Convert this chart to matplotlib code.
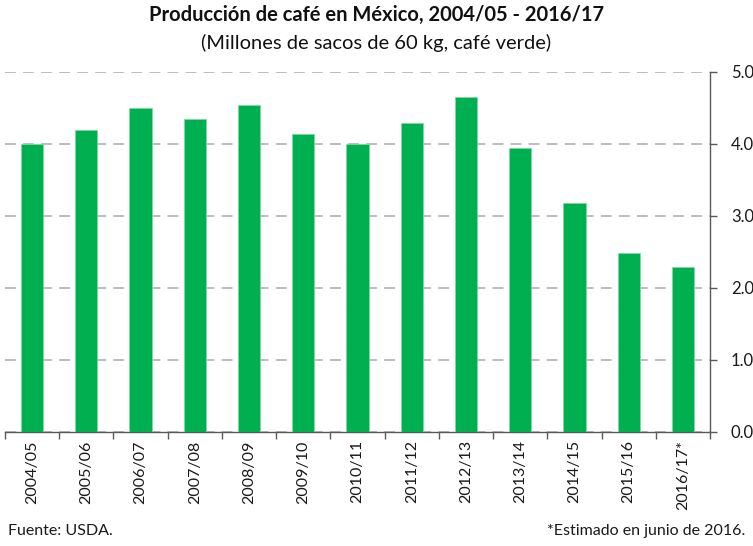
import numpy as np
import matplotlib
matplotlib.use("Agg")
import matplotlib.pyplot as plt

# data (millones de sacos de 60 kg)
ciclos = ['2004/05', '2005/06', '2006/07', '2007/08', '2008/09', '2009/10',
          '2010/11', '2011/12', '2012/13', '2013/14', '2014/15', '2015/16',
          '2016/17*']
produccion = [4.00, 4.19, 4.50, 4.35, 4.54, 4.14, 4.00, 4.29, 4.65, 3.95,
              3.18, 2.49, 2.29]
y_ticks = [0.0, 1.0, 2.0, 3.0, 4.0, 5.0]

plt.rcParams['font.family'] = ['Lato', 'DejaVu Sans']

W, H = 753, 546
fig = plt.figure(figsize=(W / 100, H / 100), dpi=100)
ax = fig.add_axes([5 / W, (H - 432) / H, (710 - 5) / W, (432 - 72) / H])

x = np.arange(len(ciclos))
ax.bar(x, produccion, width=0.41, color='#00B050', edgecolor='#7fd8a3',
       linewidth=0.6, zorder=3)

ax.set_xlim(-0.5, len(ciclos) - 0.5)
ax.set_ylim(0, 5)

# dashed horizontal grid
ax.yaxis.grid(True, linestyle=(0, (6, 4)), color='#b8b8b8', linewidth=1.3, zorder=0)
ax.xaxis.grid(False)

# y axis on the right
ax.yaxis.tick_right()
ax.set_yticks(y_ticks)
ax.set_yticklabels(['%.1f' % v for v in y_ticks], fontsize=12, color='#1a1a1a')
ax.tick_params(axis='y', direction='out', length=5, width=1, color='#595959', pad=10)

# x ticks at category boundaries, labels at centres
ax.set_xticks(np.arange(len(ciclos) + 1) - 0.5)
ax.set_xticklabels([])
ax.set_xticks(x, minor=True)
ax.set_xticklabels(ciclos, minor=True, rotation=90, fontsize=11.5, color='#1a1a1a')
ax.tick_params(axis='x', which='major', direction='out', length=5, width=1, color='#595959')
ax.tick_params(axis='x', which='minor', length=0, pad=6)

for s in ['top', 'left']:
    ax.spines[s].set_visible(False)
ax.spines['right'].set_color('#595959')
ax.spines['bottom'].set_color('#595959')
ax.spines['right'].set_linewidth(1)
ax.spines['bottom'].set_linewidth(1)

fig.text(0.5, 1 - 15 / H, 'Producción de café en México, 2004/05 - 2016/17',
         ha='center', va='center', fontsize=14.5, fontweight='bold', color='#111111')
fig.text(0.5, 1 - 43 / H, '(Millones de sacos de 60 kg, café verde)',
         ha='center', va='center', fontsize=14.5, color='#111111')

fig.text(8 / W, 1 - 531 / H, 'Fuente: USDA.', ha='left', va='center',
         fontsize=11.5, color='#1a1a1a')
fig.text(745 / W, 1 - 531 / H, '*Estimado en junio de 2016.', ha='right', va='center',
         fontsize=11.5, color='#1a1a1a')

fig.savefig('out.png', dpi=100)
